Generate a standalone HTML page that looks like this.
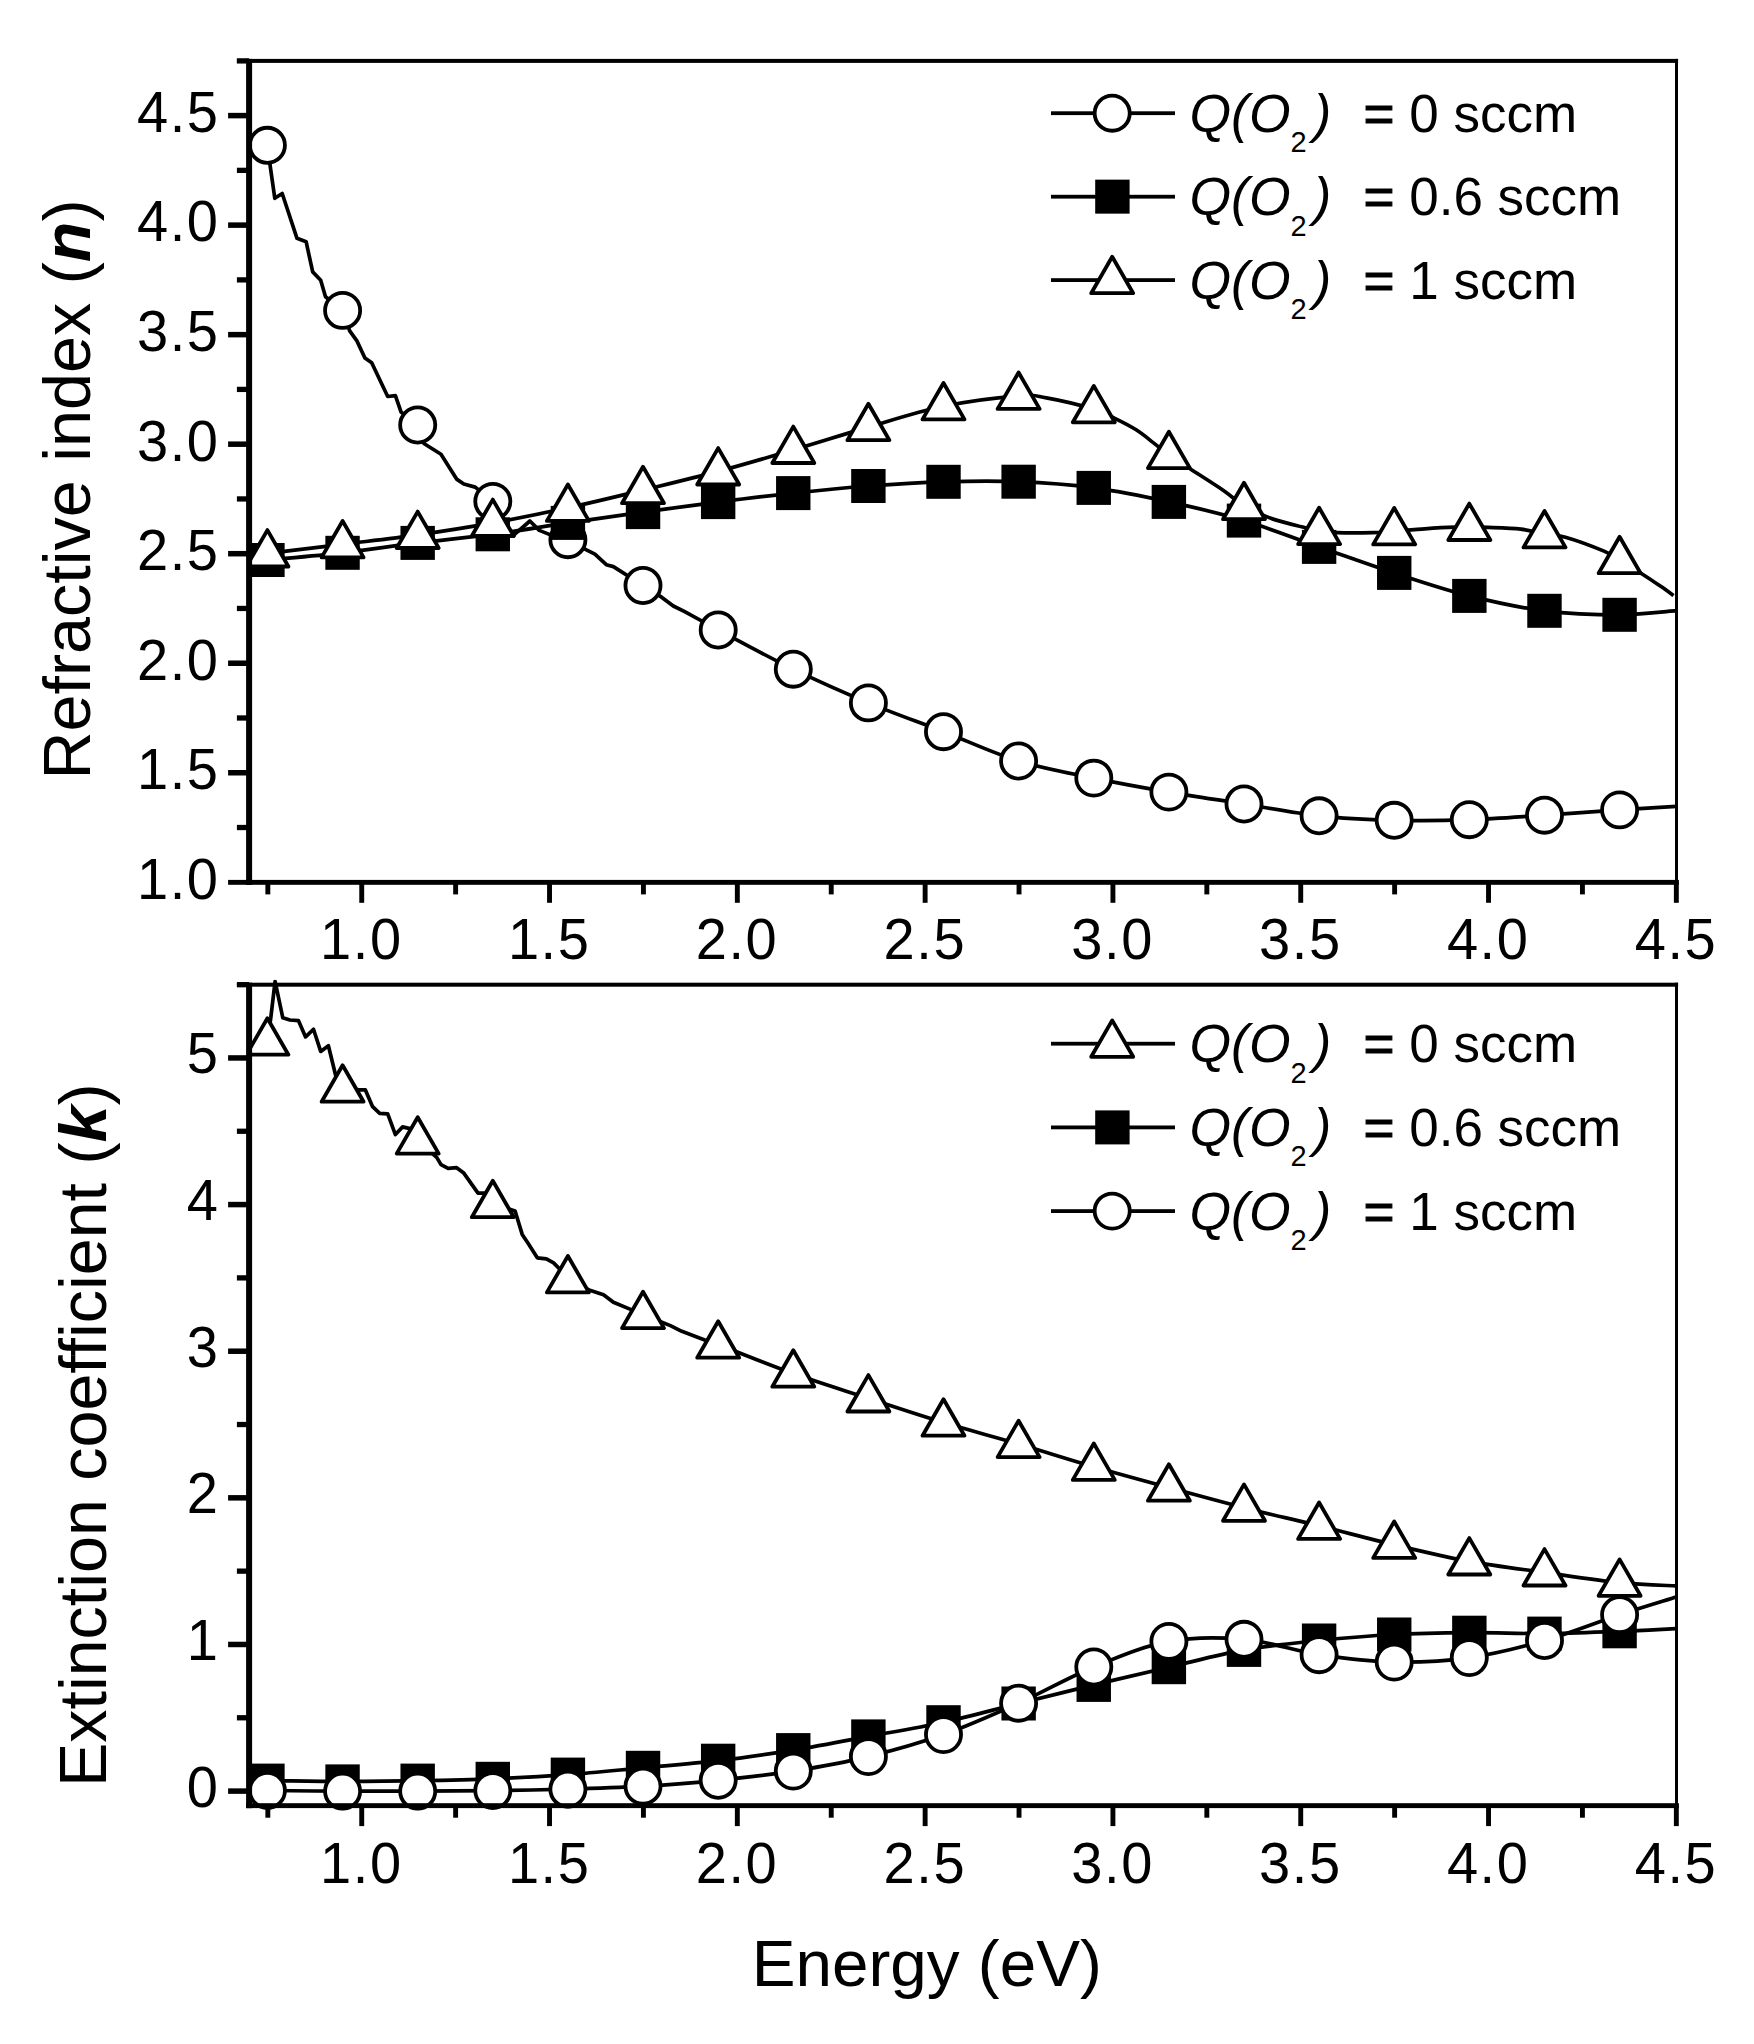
<!DOCTYPE html>
<html lang="en"><head><meta charset="utf-8"><title>Refractive index and extinction coefficient vs energy</title>
<style>html,body{margin:0;padding:0;background:#fff}svg{display:block}</style></head>
<body>
<svg width="1754" height="2044" viewBox="0 0 1754 2044" font-family='"Liberation Sans", Arial, Helvetica, sans-serif' fill="#000">
<rect width="1754" height="2044" fill="#fff"/>
<clipPath id="cp1"><rect x="249.1" y="60.9" width="1427.3" height="821.5"/></clipPath>
<g clip-path="url(#cp1)">
<path d="M267.4 145.3 L269.9 164.1 L274.8 198.3 L282.2 193.5 L297.0 238.3 L306.1 241.7 L312.7 271.9 L320.7 280.2 L325.5 296.7 L342.6 310.4 L349.7 330.9 L356.9 340.9 L364.9 358.0 L371.7 362.8 L387.7 396.5 L395.4 395.6 L401.1 412.1 L417.7 425.0 L423.9 443.5 L441.0 454.3 L449.5 467.7 L456.6 479.1 L463.8 484.0 L475.2 487.1 L492.8 501.4 L502.3 519.0 L513.1 535.6 L529.9 521.0 L539.3 530.4 L553.6 536.1 L567.9 539.7 L586.4 549.8 L594.9 554.1 L606.3 564.7 L613.4 566.6 L643.0 585.5 L661.9 597.4 L673.3 606.0 L684.7 611.7 L718.2 630.0" fill="none" stroke="#000" stroke-width="3.70" stroke-linejoin="round" stroke-linecap="butt"/>
<path d="M718.2 630.0 C730.7 636.5 768.2 657.1 793.3 669.2 C818.3 681.4 843.4 692.5 868.4 702.9 C893.4 713.3 918.5 722.0 943.5 731.7 C968.6 741.4 993.6 753.3 1018.6 761.0 C1043.7 768.7 1068.7 772.9 1093.8 778.1 C1118.8 783.3 1143.8 787.8 1168.9 792.1 C1193.9 796.4 1219.0 800.0 1244.0 804.0 C1269.0 808.0 1294.1 813.1 1319.1 815.8 C1344.2 818.5 1369.2 819.6 1394.2 820.3 C1419.3 820.9 1444.3 820.6 1469.3 819.7 C1494.4 818.9 1519.4 816.8 1544.5 815.2 C1569.5 813.6 1597.6 811.4 1619.6 809.9 C1641.6 808.4 1666.9 807.0 1676.3 806.4" fill="none" stroke="#000" stroke-width="3.70" stroke-linejoin="round" stroke-linecap="butt"/>
<circle cx="267.4" cy="145.3" r="17.55" fill="#fff" stroke="#000" stroke-width="3.80"/>
<circle cx="342.6" cy="310.4" r="17.55" fill="#fff" stroke="#000" stroke-width="3.80"/>
<circle cx="417.7" cy="425.0" r="17.55" fill="#fff" stroke="#000" stroke-width="3.80"/>
<circle cx="492.8" cy="501.4" r="17.55" fill="#fff" stroke="#000" stroke-width="3.80"/>
<circle cx="567.9" cy="539.7" r="17.55" fill="#fff" stroke="#000" stroke-width="3.80"/>
<circle cx="643.0" cy="585.5" r="17.55" fill="#fff" stroke="#000" stroke-width="3.80"/>
<circle cx="718.2" cy="630.0" r="17.55" fill="#fff" stroke="#000" stroke-width="3.80"/>
<circle cx="793.3" cy="669.2" r="17.55" fill="#fff" stroke="#000" stroke-width="3.80"/>
<circle cx="868.4" cy="702.9" r="17.55" fill="#fff" stroke="#000" stroke-width="3.80"/>
<circle cx="943.5" cy="731.7" r="17.55" fill="#fff" stroke="#000" stroke-width="3.80"/>
<circle cx="1018.6" cy="761.0" r="17.55" fill="#fff" stroke="#000" stroke-width="3.80"/>
<circle cx="1093.8" cy="778.1" r="17.55" fill="#fff" stroke="#000" stroke-width="3.80"/>
<circle cx="1168.9" cy="792.1" r="17.55" fill="#fff" stroke="#000" stroke-width="3.80"/>
<circle cx="1244.0" cy="804.0" r="17.55" fill="#fff" stroke="#000" stroke-width="3.80"/>
<circle cx="1319.1" cy="815.8" r="17.55" fill="#fff" stroke="#000" stroke-width="3.80"/>
<circle cx="1394.2" cy="820.3" r="17.55" fill="#fff" stroke="#000" stroke-width="3.80"/>
<circle cx="1469.3" cy="819.7" r="17.55" fill="#fff" stroke="#000" stroke-width="3.80"/>
<circle cx="1544.5" cy="815.2" r="17.55" fill="#fff" stroke="#000" stroke-width="3.80"/>
<circle cx="1619.6" cy="809.9" r="17.55" fill="#fff" stroke="#000" stroke-width="3.80"/>
<path d="M249.1 561.5 C252.1 561.2 251.8 561.5 267.4 560.0 C283.0 558.5 317.5 555.6 342.6 552.8 C367.6 549.9 392.6 546.0 417.7 542.9 C442.7 539.8 467.8 537.6 492.8 534.3 C517.8 531.0 542.9 526.6 567.9 522.9 C593.0 519.2 618.0 515.6 643.0 512.1 C668.1 508.6 693.1 505.3 718.2 502.1 C743.2 498.9 768.2 495.8 793.3 493.1 C818.3 490.4 843.4 487.9 868.4 486.0 C893.4 484.1 918.5 482.5 943.5 481.8 C968.6 481.1 993.6 480.7 1018.6 481.7 C1043.7 482.7 1068.7 484.5 1093.8 487.9 C1118.8 491.3 1143.8 496.4 1168.9 501.9 C1193.9 507.3 1219.0 513.1 1244.0 520.6 C1269.0 528.1 1294.1 538.2 1319.1 546.9 C1344.2 555.6 1369.2 564.7 1394.2 572.9 C1419.3 581.1 1444.3 589.6 1469.3 595.9 C1494.4 602.2 1519.4 607.6 1544.5 610.8 C1569.5 613.9 1597.6 614.8 1619.6 614.8 C1641.6 614.8 1666.9 611.4 1676.3 610.7" fill="none" stroke="#000" stroke-width="3.70" stroke-linejoin="round" stroke-linecap="butt"/>
<rect x="250.23" y="543.00" width="34.4" height="34" fill="#000"/>
<rect x="325.35" y="535.80" width="34.4" height="34" fill="#000"/>
<rect x="400.47" y="525.90" width="34.4" height="34" fill="#000"/>
<rect x="475.59" y="517.30" width="34.4" height="34" fill="#000"/>
<rect x="550.71" y="505.90" width="34.4" height="34" fill="#000"/>
<rect x="625.83" y="495.10" width="34.4" height="34" fill="#000"/>
<rect x="700.95" y="485.10" width="34.4" height="34" fill="#000"/>
<rect x="776.07" y="476.10" width="34.4" height="34" fill="#000"/>
<rect x="851.19" y="469.00" width="34.4" height="34" fill="#000"/>
<rect x="926.31" y="464.80" width="34.4" height="34" fill="#000"/>
<rect x="1001.43" y="464.70" width="34.4" height="34" fill="#000"/>
<rect x="1076.55" y="470.90" width="34.4" height="34" fill="#000"/>
<rect x="1151.67" y="484.90" width="34.4" height="34" fill="#000"/>
<rect x="1226.79" y="503.60" width="34.4" height="34" fill="#000"/>
<rect x="1301.91" y="529.90" width="34.4" height="34" fill="#000"/>
<rect x="1377.03" y="555.90" width="34.4" height="34" fill="#000"/>
<rect x="1452.15" y="578.90" width="34.4" height="34" fill="#000"/>
<rect x="1527.27" y="593.80" width="34.4" height="34" fill="#000"/>
<rect x="1602.39" y="597.80" width="34.4" height="34" fill="#000"/>
<path d="M249.1 555.0 C252.1 554.7 251.8 555.2 267.4 553.4 C283.0 551.6 317.5 547.4 342.6 544.3 C367.6 541.2 392.6 538.5 417.7 534.9 C442.7 531.3 467.8 527.4 492.8 522.9 C517.8 518.4 542.9 513.3 567.9 507.8 C593.0 502.3 618.0 496.2 643.0 490.1 C668.1 484.0 693.1 478.1 718.2 471.4 C743.2 464.7 768.2 457.3 793.3 449.9 C818.3 442.5 843.4 434.4 868.4 427.1 C893.4 419.8 918.5 411.5 943.5 406.3 C968.6 401.1 1001.5 397.2 1018.6 395.8 C1035.8 394.4 1033.8 395.6 1046.4 397.9 C1058.9 400.1 1082.3 405.8 1093.8 409.2 C1105.2 412.6 1107.7 415.0 1114.8 418.4 C1121.8 421.8 1129.7 425.8 1136.1 429.8 C1142.6 433.8 1147.8 438.4 1153.2 442.6 C1158.7 446.8 1162.7 450.6 1168.9 455.0 C1175.1 459.4 1181.1 462.9 1190.4 469.0 C1199.6 475.0 1215.5 485.0 1224.5 491.2 C1233.4 497.4 1237.1 501.9 1244.0 506.1 C1250.9 510.3 1259.8 513.8 1266.0 516.4 C1272.1 519.0 1274.9 519.7 1280.8 521.4 C1286.7 523.2 1295.2 525.2 1301.6 526.8 C1307.9 528.4 1313.2 530.0 1319.1 531.0 C1325.0 532.0 1328.2 532.4 1337.1 532.7 C1346.1 533.0 1363.2 532.9 1372.7 532.7 C1382.2 532.5 1387.3 531.8 1394.2 531.3 C1401.1 530.8 1406.4 530.3 1414.2 529.7 C1422.0 529.1 1431.7 528.1 1440.9 527.7 C1450.1 527.2 1461.4 526.9 1469.3 526.9 C1477.3 526.9 1479.7 527.0 1488.3 527.4 C1496.9 527.7 1511.6 528.0 1520.9 529.1 C1530.3 530.3 1537.1 533.0 1544.5 534.3 C1551.9 535.6 1555.5 534.4 1565.4 537.2 C1575.3 540.0 1594.9 547.3 1604.0 551.1 C1613.0 554.9 1613.2 556.2 1619.6 560.1 C1626.0 564.0 1635.7 569.9 1642.5 574.2 C1649.3 578.5 1655.1 582.5 1660.3 586.1 C1665.5 589.6 1671.4 594.0 1673.6 595.6" fill="none" stroke="#000" stroke-width="3.70" stroke-linejoin="round" stroke-linecap="butt"/>
<path d="M267.4 530.1 L288.4 566.5 L246.4 566.5 Z" fill="#fff" stroke="#000" stroke-width="3.80" stroke-linejoin="round"/>
<path d="M342.6 521.0 L363.6 557.4 L321.6 557.4 Z" fill="#fff" stroke="#000" stroke-width="3.80" stroke-linejoin="round"/>
<path d="M417.7 511.6 L438.7 548.0 L396.7 548.0 Z" fill="#fff" stroke="#000" stroke-width="3.80" stroke-linejoin="round"/>
<path d="M492.8 499.6 L513.8 536.0 L471.8 536.0 Z" fill="#fff" stroke="#000" stroke-width="3.80" stroke-linejoin="round"/>
<path d="M567.9 484.5 L588.9 520.9 L546.9 520.9 Z" fill="#fff" stroke="#000" stroke-width="3.80" stroke-linejoin="round"/>
<path d="M643.0 466.8 L664.0 503.2 L622.0 503.2 Z" fill="#fff" stroke="#000" stroke-width="3.80" stroke-linejoin="round"/>
<path d="M718.2 448.1 L739.2 484.5 L697.2 484.5 Z" fill="#fff" stroke="#000" stroke-width="3.80" stroke-linejoin="round"/>
<path d="M793.3 426.6 L814.3 463.0 L772.3 463.0 Z" fill="#fff" stroke="#000" stroke-width="3.80" stroke-linejoin="round"/>
<path d="M868.4 403.8 L889.4 440.2 L847.4 440.2 Z" fill="#fff" stroke="#000" stroke-width="3.80" stroke-linejoin="round"/>
<path d="M943.5 383.0 L964.5 419.4 L922.5 419.4 Z" fill="#fff" stroke="#000" stroke-width="3.80" stroke-linejoin="round"/>
<path d="M1018.6 372.5 L1039.6 408.9 L997.6 408.9 Z" fill="#fff" stroke="#000" stroke-width="3.80" stroke-linejoin="round"/>
<path d="M1093.8 385.9 L1114.8 422.3 L1072.8 422.3 Z" fill="#fff" stroke="#000" stroke-width="3.80" stroke-linejoin="round"/>
<path d="M1168.9 431.7 L1189.9 468.1 L1147.9 468.1 Z" fill="#fff" stroke="#000" stroke-width="3.80" stroke-linejoin="round"/>
<path d="M1244.0 482.8 L1265.0 519.2 L1223.0 519.2 Z" fill="#fff" stroke="#000" stroke-width="3.80" stroke-linejoin="round"/>
<path d="M1319.1 507.7 L1340.1 544.1 L1298.1 544.1 Z" fill="#fff" stroke="#000" stroke-width="3.80" stroke-linejoin="round"/>
<path d="M1394.2 508.0 L1415.2 544.4 L1373.2 544.4 Z" fill="#fff" stroke="#000" stroke-width="3.80" stroke-linejoin="round"/>
<path d="M1469.3 503.6 L1490.3 540.0 L1448.3 540.0 Z" fill="#fff" stroke="#000" stroke-width="3.80" stroke-linejoin="round"/>
<path d="M1544.5 511.0 L1565.5 547.4 L1523.5 547.4 Z" fill="#fff" stroke="#000" stroke-width="3.80" stroke-linejoin="round"/>
<path d="M1619.6 536.8 L1640.6 573.2 L1598.6 573.2 Z" fill="#fff" stroke="#000" stroke-width="3.80" stroke-linejoin="round"/>
</g>
<rect x="1675.0" y="58.9" width="3.0" height="826.0" fill="#000"/>
<rect x="236.9" y="58.9" width="1441.2" height="4.0" fill="#000"/>
<rect x="246.1" y="58.9" width="6.0" height="826.0" fill="#000"/>
<rect x="246.1" y="879.9" width="1432.8" height="4.9" fill="#000"/>
<rect x="228.1" y="770.00" width="21.0" height="5.5" fill="#000"/>
<rect x="228.1" y="660.48" width="21.0" height="5.5" fill="#000"/>
<rect x="228.1" y="550.95" width="21.0" height="5.5" fill="#000"/>
<rect x="228.1" y="441.43" width="21.0" height="5.5" fill="#000"/>
<rect x="228.1" y="331.90" width="21.0" height="5.5" fill="#000"/>
<rect x="228.1" y="222.38" width="21.0" height="5.5" fill="#000"/>
<rect x="228.1" y="112.85" width="21.0" height="5.5" fill="#000"/>
<rect x="236.9" y="824.86" width="12.2" height="5.3" fill="#000"/>
<rect x="236.9" y="715.34" width="12.2" height="5.3" fill="#000"/>
<rect x="236.9" y="605.81" width="12.2" height="5.3" fill="#000"/>
<rect x="236.9" y="496.29" width="12.2" height="5.3" fill="#000"/>
<rect x="236.9" y="386.76" width="12.2" height="5.3" fill="#000"/>
<rect x="236.9" y="277.24" width="12.2" height="5.3" fill="#000"/>
<rect x="236.9" y="167.71" width="12.2" height="5.3" fill="#000"/>
<rect x="236.9" y="58.25" width="12.2" height="5.3" fill="#000"/>
<rect x="359.28" y="882.4" width="4.9" height="20.4" fill="#000"/>
<rect x="547.08" y="882.4" width="4.9" height="20.4" fill="#000"/>
<rect x="734.88" y="882.4" width="4.9" height="20.4" fill="#000"/>
<rect x="922.68" y="882.4" width="4.9" height="20.4" fill="#000"/>
<rect x="1110.48" y="882.4" width="4.9" height="20.4" fill="#000"/>
<rect x="1298.28" y="882.4" width="4.9" height="20.4" fill="#000"/>
<rect x="1486.08" y="882.4" width="4.9" height="20.4" fill="#000"/>
<rect x="1673.88" y="882.4" width="4.9" height="20.4" fill="#000"/>
<rect x="265.38" y="882.4" width="4.9" height="12.0" fill="#000"/>
<rect x="453.18" y="882.4" width="4.9" height="12.0" fill="#000"/>
<rect x="640.98" y="882.4" width="4.9" height="12.0" fill="#000"/>
<rect x="828.78" y="882.4" width="4.9" height="12.0" fill="#000"/>
<rect x="1016.58" y="882.4" width="4.9" height="12.0" fill="#000"/>
<rect x="1204.38" y="882.4" width="4.9" height="12.0" fill="#000"/>
<rect x="1392.18" y="882.4" width="4.9" height="12.0" fill="#000"/>
<rect x="1579.98" y="882.4" width="4.9" height="12.0" fill="#000"/>
<text transform="translate(219.6 898.6) scale(1 1.030)" font-size="56.0" text-anchor="end" letter-spacing="1.60">1.0</text>
<text transform="translate(219.6 789.1) scale(1 1.030)" font-size="56.0" text-anchor="end" letter-spacing="1.60">1.5</text>
<text transform="translate(219.6 679.5) scale(1 1.030)" font-size="56.0" text-anchor="end" letter-spacing="1.60">2.0</text>
<text transform="translate(219.6 570.0) scale(1 1.030)" font-size="56.0" text-anchor="end" letter-spacing="1.60">2.5</text>
<text transform="translate(219.6 460.5) scale(1 1.030)" font-size="56.0" text-anchor="end" letter-spacing="1.60">3.0</text>
<text transform="translate(219.6 350.9) scale(1 1.030)" font-size="56.0" text-anchor="end" letter-spacing="1.60">3.5</text>
<text transform="translate(219.6 241.4) scale(1 1.030)" font-size="56.0" text-anchor="end" letter-spacing="1.60">4.0</text>
<text transform="translate(219.6 131.9) scale(1 1.030)" font-size="56.0" text-anchor="end" letter-spacing="1.60">4.5</text>
<text transform="translate(361.4 959.0) scale(1 1.030)" font-size="56.0" text-anchor="middle" letter-spacing="1.60">1.0</text>
<text transform="translate(549.2 959.0) scale(1 1.030)" font-size="56.0" text-anchor="middle" letter-spacing="1.60">1.5</text>
<text transform="translate(737.0 959.0) scale(1 1.030)" font-size="56.0" text-anchor="middle" letter-spacing="1.60">2.0</text>
<text transform="translate(924.8 959.0) scale(1 1.030)" font-size="56.0" text-anchor="middle" letter-spacing="1.60">2.5</text>
<text transform="translate(1112.6 959.0) scale(1 1.030)" font-size="56.0" text-anchor="middle" letter-spacing="1.60">3.0</text>
<text transform="translate(1300.4 959.0) scale(1 1.030)" font-size="56.0" text-anchor="middle" letter-spacing="1.60">3.5</text>
<text transform="translate(1488.2 959.0) scale(1 1.030)" font-size="56.0" text-anchor="middle" letter-spacing="1.60">4.0</text>
<text transform="translate(1676.0 959.0) scale(1 1.030)" font-size="56.0" text-anchor="middle" letter-spacing="1.60">4.5</text>
<rect x="228.1" y="879.9" width="21" height="4.9" fill="#000"/>
<rect x="1051" y="111.3" width="124" height="3.8" fill="#000"/>
<circle cx="1112.2" cy="113.2" r="17.55" fill="#fff" stroke="#000" stroke-width="3.80"/>
<text y="131.7" font-size="53.5"><tspan x="1189.5" font-style="italic">Q(O</tspan><tspan x="1290.5" dy="20.5" font-size="29">2</tspan><tspan x="1313.5" dy="-20.5" font-style="italic">)</tspan><tspan x="1363.5" font-size="53" stroke="#000" stroke-width="1.1">=</tspan><tspan font-size="53"> 0 sccm</tspan></text>
<rect x="1051" y="194.8" width="124" height="3.8" fill="#000"/>
<rect x="1095.20" y="179.65" width="34.4" height="34" fill="#000"/>
<text y="215.2" font-size="53.5"><tspan x="1189.5" font-style="italic">Q(O</tspan><tspan x="1290.5" dy="20.5" font-size="29">2</tspan><tspan x="1313.5" dy="-20.5" font-style="italic">)</tspan><tspan x="1363.5" font-size="53" stroke="#000" stroke-width="1.1">=</tspan><tspan font-size="53"> 0.6 sccm</tspan></text>
<rect x="1051" y="278.2" width="124" height="3.8" fill="#000"/>
<path d="M1112.2 256.8 L1133.2 293.2 L1091.2 293.2 Z" fill="#fff" stroke="#000" stroke-width="3.80" stroke-linejoin="round"/>
<text y="298.6" font-size="53.5"><tspan x="1189.5" font-style="italic">Q(O</tspan><tspan x="1290.5" dy="20.5" font-size="29">2</tspan><tspan x="1313.5" dy="-20.5" font-style="italic">)</tspan><tspan x="1363.5" font-size="53" stroke="#000" stroke-width="1.1">=</tspan><tspan font-size="53"> 1 sccm</tspan></text>
<clipPath id="cp2"><rect x="249.1" y="979.7" width="1427.3" height="831.0"/></clipPath>
<g clip-path="url(#cp2)">
<path d="M251.1 1046.0 L267.4 1041.6 L270.8 1017.8 L275.1 981.3 L282.8 1017.8 L289.9 1020.0 L298.4 1020.6 L305.6 1036.9 L313.5 1029.2 L320.7 1051.4 L328.4 1045.7 L335.5 1074.8 L342.6 1088.6 L359.7 1089.9 L365.4 1089.9 L372.6 1106.7 L379.7 1113.3 L387.7 1113.8 L395.4 1134.6 L402.5 1126.9 L411.0 1128.9 L417.7 1140.5 L436.7 1157.4 L441.0 1164.6 L448.1 1168.3 L456.6 1167.7 L463.8 1173.1 L478.0 1193.1 L485.2 1193.1 L492.8 1204.1 L515.1 1211.0 L522.2 1234.4 L527.9 1243.0 L537.3 1257.8 L546.4 1258.9 L553.6 1262.9 L562.1 1271.5 L567.9 1279.3 L590.6 1290.6 L603.5 1294.8 L613.4 1302.3 L630.5 1309.4 L643.0 1315.0 L661.9 1322.2 L670.4 1325.6 L681.8 1331.3 L704.7 1339.9 L718.2 1344.6" fill="none" stroke="#000" stroke-width="3.70" stroke-linejoin="round" stroke-linecap="butt"/>
<path d="M718.2 1344.6 C730.7 1349.4 768.2 1364.6 793.3 1373.6 C818.3 1382.6 843.4 1390.2 868.4 1398.4 C893.4 1406.6 918.5 1415.0 943.5 1422.6 C968.6 1430.2 993.6 1436.6 1018.6 1444.0 C1043.7 1451.4 1068.7 1459.5 1093.8 1466.8 C1118.8 1474.1 1143.8 1480.8 1168.9 1487.6 C1193.9 1494.4 1219.0 1501.3 1244.0 1507.7 C1269.0 1514.1 1294.1 1519.6 1319.1 1525.8 C1344.2 1532.0 1369.2 1538.9 1394.2 1544.8 C1419.3 1550.7 1444.3 1556.8 1469.3 1561.4 C1494.4 1566.0 1519.4 1568.9 1544.5 1572.4 C1569.5 1576.0 1597.6 1580.5 1619.6 1582.7 C1641.6 1585.0 1666.9 1585.4 1676.3 1585.9" fill="none" stroke="#000" stroke-width="3.70" stroke-linejoin="round" stroke-linecap="butt"/>
<path d="M267.4 1018.3 L288.4 1054.7 L246.4 1054.7 Z" fill="#fff" stroke="#000" stroke-width="3.80" stroke-linejoin="round"/>
<path d="M342.6 1065.3 L363.6 1101.7 L321.6 1101.7 Z" fill="#fff" stroke="#000" stroke-width="3.80" stroke-linejoin="round"/>
<path d="M417.7 1117.2 L438.7 1153.6 L396.7 1153.6 Z" fill="#fff" stroke="#000" stroke-width="3.80" stroke-linejoin="round"/>
<path d="M492.8 1180.8 L513.8 1217.2 L471.8 1217.2 Z" fill="#fff" stroke="#000" stroke-width="3.80" stroke-linejoin="round"/>
<path d="M567.9 1256.0 L588.9 1292.4 L546.9 1292.4 Z" fill="#fff" stroke="#000" stroke-width="3.80" stroke-linejoin="round"/>
<path d="M643.0 1291.7 L664.0 1328.1 L622.0 1328.1 Z" fill="#fff" stroke="#000" stroke-width="3.80" stroke-linejoin="round"/>
<path d="M718.2 1321.3 L739.2 1357.7 L697.2 1357.7 Z" fill="#fff" stroke="#000" stroke-width="3.80" stroke-linejoin="round"/>
<path d="M793.3 1350.3 L814.3 1386.7 L772.3 1386.7 Z" fill="#fff" stroke="#000" stroke-width="3.80" stroke-linejoin="round"/>
<path d="M868.4 1375.1 L889.4 1411.5 L847.4 1411.5 Z" fill="#fff" stroke="#000" stroke-width="3.80" stroke-linejoin="round"/>
<path d="M943.5 1399.3 L964.5 1435.7 L922.5 1435.7 Z" fill="#fff" stroke="#000" stroke-width="3.80" stroke-linejoin="round"/>
<path d="M1018.6 1420.7 L1039.6 1457.1 L997.6 1457.1 Z" fill="#fff" stroke="#000" stroke-width="3.80" stroke-linejoin="round"/>
<path d="M1093.8 1443.5 L1114.8 1479.9 L1072.8 1479.9 Z" fill="#fff" stroke="#000" stroke-width="3.80" stroke-linejoin="round"/>
<path d="M1168.9 1464.3 L1189.9 1500.7 L1147.9 1500.7 Z" fill="#fff" stroke="#000" stroke-width="3.80" stroke-linejoin="round"/>
<path d="M1244.0 1484.4 L1265.0 1520.8 L1223.0 1520.8 Z" fill="#fff" stroke="#000" stroke-width="3.80" stroke-linejoin="round"/>
<path d="M1319.1 1502.5 L1340.1 1538.9 L1298.1 1538.9 Z" fill="#fff" stroke="#000" stroke-width="3.80" stroke-linejoin="round"/>
<path d="M1394.2 1521.5 L1415.2 1557.9 L1373.2 1557.9 Z" fill="#fff" stroke="#000" stroke-width="3.80" stroke-linejoin="round"/>
<path d="M1469.3 1538.1 L1490.3 1574.5 L1448.3 1574.5 Z" fill="#fff" stroke="#000" stroke-width="3.80" stroke-linejoin="round"/>
<path d="M1544.5 1549.1 L1565.5 1585.5 L1523.5 1585.5 Z" fill="#fff" stroke="#000" stroke-width="3.80" stroke-linejoin="round"/>
<path d="M1619.6 1559.4 L1640.6 1595.8 L1598.6 1595.8 Z" fill="#fff" stroke="#000" stroke-width="3.80" stroke-linejoin="round"/>
<path d="M249.1 1780.6 C252.1 1780.6 251.8 1780.5 267.4 1780.6 C283.0 1780.7 317.5 1781.4 342.6 1781.4 C367.6 1781.4 392.6 1781.0 417.7 1780.6 C442.7 1780.2 467.8 1779.8 492.8 1778.8 C517.8 1777.8 542.9 1776.4 567.9 1774.6 C593.0 1772.8 618.0 1770.1 643.0 1767.8 C668.1 1765.5 693.1 1763.7 718.2 1760.7 C743.2 1757.8 768.2 1754.1 793.3 1750.1 C818.3 1746.0 843.4 1741.1 868.4 1736.4 C893.4 1731.8 918.5 1727.7 943.5 1722.2 C968.6 1716.7 993.6 1709.7 1018.6 1703.5 C1043.7 1697.3 1068.7 1691.0 1093.8 1684.9 C1118.8 1678.9 1143.8 1673.0 1168.9 1667.2 C1193.9 1661.4 1219.0 1654.4 1244.0 1649.9 C1269.0 1645.5 1294.1 1643.1 1319.1 1640.5 C1344.2 1637.9 1369.2 1635.8 1394.2 1634.5 C1419.3 1633.2 1444.3 1632.9 1469.3 1632.7 C1494.4 1632.5 1519.4 1633.8 1544.5 1633.6 C1569.5 1633.4 1597.6 1632.1 1619.6 1631.3 C1641.6 1630.5 1666.9 1629.0 1676.3 1628.6" fill="none" stroke="#000" stroke-width="3.70" stroke-linejoin="round" stroke-linecap="butt"/>
<rect x="250.23" y="1763.60" width="34.4" height="34" fill="#000"/>
<rect x="325.35" y="1764.40" width="34.4" height="34" fill="#000"/>
<rect x="400.47" y="1763.60" width="34.4" height="34" fill="#000"/>
<rect x="475.59" y="1761.80" width="34.4" height="34" fill="#000"/>
<rect x="550.71" y="1757.60" width="34.4" height="34" fill="#000"/>
<rect x="625.83" y="1750.80" width="34.4" height="34" fill="#000"/>
<rect x="700.95" y="1743.70" width="34.4" height="34" fill="#000"/>
<rect x="776.07" y="1733.10" width="34.4" height="34" fill="#000"/>
<rect x="851.19" y="1719.40" width="34.4" height="34" fill="#000"/>
<rect x="926.31" y="1705.20" width="34.4" height="34" fill="#000"/>
<rect x="1001.43" y="1686.50" width="34.4" height="34" fill="#000"/>
<rect x="1076.55" y="1667.90" width="34.4" height="34" fill="#000"/>
<rect x="1151.67" y="1650.20" width="34.4" height="34" fill="#000"/>
<rect x="1226.79" y="1632.90" width="34.4" height="34" fill="#000"/>
<rect x="1301.91" y="1623.50" width="34.4" height="34" fill="#000"/>
<rect x="1377.03" y="1617.50" width="34.4" height="34" fill="#000"/>
<rect x="1452.15" y="1615.70" width="34.4" height="34" fill="#000"/>
<rect x="1527.27" y="1616.60" width="34.4" height="34" fill="#000"/>
<rect x="1602.39" y="1614.30" width="34.4" height="34" fill="#000"/>
<path d="M249.1 1790.5 C252.1 1790.5 251.8 1790.4 267.4 1790.5 C283.0 1790.6 317.5 1791.1 342.6 1791.2 C367.6 1791.3 392.6 1791.3 417.7 1791.2 C442.7 1791.1 467.8 1790.9 492.8 1790.6 C517.8 1790.3 542.9 1789.9 567.9 1789.2 C593.0 1788.5 618.0 1787.7 643.0 1786.2 C668.1 1784.7 693.1 1782.8 718.2 1780.3 C743.2 1777.8 768.2 1775.0 793.3 1771.1 C818.3 1767.1 843.4 1762.7 868.4 1756.6 C893.4 1750.5 918.5 1743.5 943.5 1734.6 C968.6 1725.7 993.6 1714.5 1018.6 1703.2 C1043.7 1691.9 1068.7 1677.3 1093.8 1667.0 C1118.8 1656.7 1143.8 1646.0 1168.9 1641.4 C1193.9 1636.8 1219.0 1637.1 1244.0 1639.3 C1269.0 1641.5 1294.1 1650.9 1319.1 1654.7 C1344.2 1658.5 1369.2 1661.6 1394.2 1662.1 C1419.3 1662.6 1444.3 1661.2 1469.3 1657.6 C1494.4 1654.0 1519.4 1647.7 1544.5 1640.5 C1569.5 1633.3 1597.6 1622.0 1619.6 1614.7 C1641.6 1607.4 1666.9 1599.9 1676.3 1596.9" fill="none" stroke="#000" stroke-width="3.70" stroke-linejoin="round" stroke-linecap="butt"/>
<circle cx="267.4" cy="1790.5" r="17.55" fill="#fff" stroke="#000" stroke-width="3.80"/>
<circle cx="342.6" cy="1791.2" r="17.55" fill="#fff" stroke="#000" stroke-width="3.80"/>
<circle cx="417.7" cy="1791.2" r="17.55" fill="#fff" stroke="#000" stroke-width="3.80"/>
<circle cx="492.8" cy="1790.6" r="17.55" fill="#fff" stroke="#000" stroke-width="3.80"/>
<circle cx="567.9" cy="1789.2" r="17.55" fill="#fff" stroke="#000" stroke-width="3.80"/>
<circle cx="643.0" cy="1786.2" r="17.55" fill="#fff" stroke="#000" stroke-width="3.80"/>
<circle cx="718.2" cy="1780.3" r="17.55" fill="#fff" stroke="#000" stroke-width="3.80"/>
<circle cx="793.3" cy="1771.1" r="17.55" fill="#fff" stroke="#000" stroke-width="3.80"/>
<circle cx="868.4" cy="1756.6" r="17.55" fill="#fff" stroke="#000" stroke-width="3.80"/>
<circle cx="943.5" cy="1734.6" r="17.55" fill="#fff" stroke="#000" stroke-width="3.80"/>
<circle cx="1018.6" cy="1703.2" r="17.55" fill="#fff" stroke="#000" stroke-width="3.80"/>
<circle cx="1093.8" cy="1667.0" r="17.55" fill="#fff" stroke="#000" stroke-width="3.80"/>
<circle cx="1168.9" cy="1641.4" r="17.55" fill="#fff" stroke="#000" stroke-width="3.80"/>
<circle cx="1244.0" cy="1639.3" r="17.55" fill="#fff" stroke="#000" stroke-width="3.80"/>
<circle cx="1319.1" cy="1654.7" r="17.55" fill="#fff" stroke="#000" stroke-width="3.80"/>
<circle cx="1394.2" cy="1662.1" r="17.55" fill="#fff" stroke="#000" stroke-width="3.80"/>
<circle cx="1469.3" cy="1657.6" r="17.55" fill="#fff" stroke="#000" stroke-width="3.80"/>
<circle cx="1544.5" cy="1640.5" r="17.55" fill="#fff" stroke="#000" stroke-width="3.80"/>
<circle cx="1619.6" cy="1614.7" r="17.55" fill="#fff" stroke="#000" stroke-width="3.80"/>
</g>
<rect x="1675.0" y="982.7" width="3.0" height="825.5" fill="#000"/>
<rect x="236.9" y="982.7" width="1441.2" height="4.0" fill="#000"/>
<rect x="246.1" y="982.7" width="6.0" height="825.5" fill="#000"/>
<rect x="246.1" y="1803.2" width="1432.8" height="4.9" fill="#000"/>
<rect x="228.1" y="1788.35" width="21.0" height="5.5" fill="#000"/>
<rect x="228.1" y="1641.72" width="21.0" height="5.5" fill="#000"/>
<rect x="228.1" y="1495.09" width="21.0" height="5.5" fill="#000"/>
<rect x="228.1" y="1348.46" width="21.0" height="5.5" fill="#000"/>
<rect x="228.1" y="1201.83" width="21.0" height="5.5" fill="#000"/>
<rect x="228.1" y="1055.20" width="21.0" height="5.5" fill="#000"/>
<rect x="236.9" y="1715.13" width="12.2" height="5.3" fill="#000"/>
<rect x="236.9" y="1568.50" width="12.2" height="5.3" fill="#000"/>
<rect x="236.9" y="1421.87" width="12.2" height="5.3" fill="#000"/>
<rect x="236.9" y="1275.24" width="12.2" height="5.3" fill="#000"/>
<rect x="236.9" y="1128.61" width="12.2" height="5.3" fill="#000"/>
<rect x="236.9" y="982.05" width="12.2" height="5.3" fill="#000"/>
<rect x="359.28" y="1805.7" width="4.9" height="20.4" fill="#000"/>
<rect x="547.08" y="1805.7" width="4.9" height="20.4" fill="#000"/>
<rect x="734.88" y="1805.7" width="4.9" height="20.4" fill="#000"/>
<rect x="922.68" y="1805.7" width="4.9" height="20.4" fill="#000"/>
<rect x="1110.48" y="1805.7" width="4.9" height="20.4" fill="#000"/>
<rect x="1298.28" y="1805.7" width="4.9" height="20.4" fill="#000"/>
<rect x="1486.08" y="1805.7" width="4.9" height="20.4" fill="#000"/>
<rect x="1673.88" y="1805.7" width="4.9" height="20.4" fill="#000"/>
<rect x="265.38" y="1805.7" width="4.9" height="12.0" fill="#000"/>
<rect x="453.18" y="1805.7" width="4.9" height="12.0" fill="#000"/>
<rect x="640.98" y="1805.7" width="4.9" height="12.0" fill="#000"/>
<rect x="828.78" y="1805.7" width="4.9" height="12.0" fill="#000"/>
<rect x="1016.58" y="1805.7" width="4.9" height="12.0" fill="#000"/>
<rect x="1204.38" y="1805.7" width="4.9" height="12.0" fill="#000"/>
<rect x="1392.18" y="1805.7" width="4.9" height="12.0" fill="#000"/>
<rect x="1579.98" y="1805.7" width="4.9" height="12.0" fill="#000"/>
<text transform="translate(219.6 1806.6) scale(1 1.030)" font-size="56.0" text-anchor="end" letter-spacing="1.60">0</text>
<text transform="translate(219.6 1660.0) scale(1 1.030)" font-size="56.0" text-anchor="end" letter-spacing="1.60">1</text>
<text transform="translate(219.6 1513.3) scale(1 1.030)" font-size="56.0" text-anchor="end" letter-spacing="1.60">2</text>
<text transform="translate(219.6 1366.7) scale(1 1.030)" font-size="56.0" text-anchor="end" letter-spacing="1.60">3</text>
<text transform="translate(219.6 1220.1) scale(1 1.030)" font-size="56.0" text-anchor="end" letter-spacing="1.60">4</text>
<text transform="translate(219.6 1073.4) scale(1 1.030)" font-size="56.0" text-anchor="end" letter-spacing="1.60">5</text>
<text transform="translate(361.4 1882.8) scale(1 1.030)" font-size="56.0" text-anchor="middle" letter-spacing="1.60">1.0</text>
<text transform="translate(549.2 1882.8) scale(1 1.030)" font-size="56.0" text-anchor="middle" letter-spacing="1.60">1.5</text>
<text transform="translate(737.0 1882.8) scale(1 1.030)" font-size="56.0" text-anchor="middle" letter-spacing="1.60">2.0</text>
<text transform="translate(924.8 1882.8) scale(1 1.030)" font-size="56.0" text-anchor="middle" letter-spacing="1.60">2.5</text>
<text transform="translate(1112.6 1882.8) scale(1 1.030)" font-size="56.0" text-anchor="middle" letter-spacing="1.60">3.0</text>
<text transform="translate(1300.4 1882.8) scale(1 1.030)" font-size="56.0" text-anchor="middle" letter-spacing="1.60">3.5</text>
<text transform="translate(1488.2 1882.8) scale(1 1.030)" font-size="56.0" text-anchor="middle" letter-spacing="1.60">4.0</text>
<text transform="translate(1676.0 1882.8) scale(1 1.030)" font-size="56.0" text-anchor="middle" letter-spacing="1.60">4.5</text>
<rect x="1051" y="1041.8" width="124" height="3.8" fill="#000"/>
<path d="M1112.2 1020.4 L1133.2 1056.8 L1091.2 1056.8 Z" fill="#fff" stroke="#000" stroke-width="3.80" stroke-linejoin="round"/>
<text y="1062.2" font-size="53.5"><tspan x="1189.5" font-style="italic">Q(O</tspan><tspan x="1290.5" dy="20.5" font-size="29">2</tspan><tspan x="1313.5" dy="-20.5" font-style="italic">)</tspan><tspan x="1363.5" font-size="53" stroke="#000" stroke-width="1.1">=</tspan><tspan font-size="53"> 0 sccm</tspan></text>
<rect x="1051" y="1125.5" width="124" height="3.8" fill="#000"/>
<rect x="1095.20" y="1110.40" width="34.4" height="34" fill="#000"/>
<text y="1145.9" font-size="53.5"><tspan x="1189.5" font-style="italic">Q(O</tspan><tspan x="1290.5" dy="20.5" font-size="29">2</tspan><tspan x="1313.5" dy="-20.5" font-style="italic">)</tspan><tspan x="1363.5" font-size="53" stroke="#000" stroke-width="1.1">=</tspan><tspan font-size="53"> 0.6 sccm</tspan></text>
<rect x="1051" y="1209.2" width="124" height="3.8" fill="#000"/>
<circle cx="1112.2" cy="1211.1" r="17.55" fill="#fff" stroke="#000" stroke-width="3.80"/>
<text y="1229.6" font-size="53.5"><tspan x="1189.5" font-style="italic">Q(O</tspan><tspan x="1290.5" dy="20.5" font-size="29">2</tspan><tspan x="1313.5" dy="-20.5" font-style="italic">)</tspan><tspan x="1363.5" font-size="53" stroke="#000" stroke-width="1.1">=</tspan><tspan font-size="53"> 1 sccm</tspan></text>
<text transform="translate(89.7 779.6) rotate(-90)" font-size="66.5">Refractive index (<tspan font-style="italic" font-weight="bold">n</tspan>)</text>
<text transform="translate(106.2 1787) rotate(-90)" font-size="66.4">Extinction coefficient (<tspan font-style="italic" font-weight="bold">k</tspan>)</text>
<text transform="translate(751.8 1985.8) scale(1 1.000)" font-size="65.6" text-anchor="start" letter-spacing="0.00">Energy (eV)</text>
</svg>
</body></html>
